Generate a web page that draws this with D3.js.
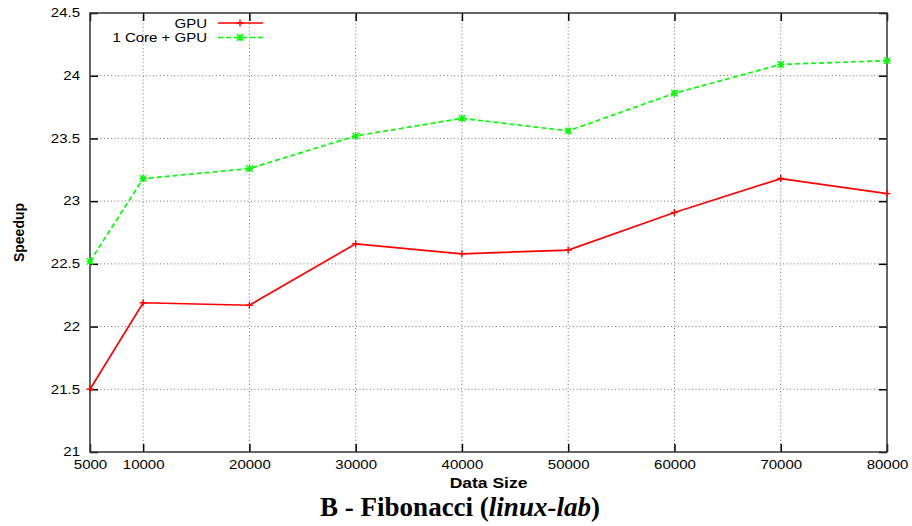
<!DOCTYPE html>
<html>
<head>
<meta charset="utf-8">
<script src="https://cdn.jsdelivr.net/npm/d3@7"></script>
<style>
  body { margin: 0; background: #fff; }
  svg { display: block; }
</style>
</head>
<body>
<div id="chart"></div>
<script>
// data
var dataSizes = [5000, 10000, 20000, 30000, 40000, 50000, 60000, 70000, 80000]
var gpuSpeedup = [21.5, 22.19, 22.17, 22.66, 22.58, 22.61, 22.91, 23.18, 23.06]
var coreGpuSpeedup = [22.52, 23.18, 23.26, 23.52, 23.66, 23.56, 23.86, 24.09, 24.12]
var yTicks = [21, 21.5, 22, 22.5, 23, 23.5, 24, 24.5]
var seriesNames = ['GPU', '1 Core + GPU']

var width = 912
var height = 526
var plot = { left: 90, right: 887, top: 13, bottom: 452 }
// the original figure is a bit stretched horizontally, so sans text is widened
var stretch = 1.25

var svg = d3.select('#chart')
  .append('svg')
  .attr('width', width)
  .attr('height', height)

var x = d3.scaleLinear().domain([5000, 80000]).range([plot.left, plot.right])
var y = d3.scaleLinear().domain([21, 24.5]).range([plot.bottom, plot.top])

var font = 'Liberation Sans, Arial, Helvetica, sans-serif'

// grid lines (dotted)
var grid = svg.append('g').attr('class', 'grid')
grid.selectAll('.vgrid')
  .data(dataSizes.slice(1, -1))
  .enter()
  .append('line')
  .attr('x1', function (d) { return x(d) })
  .attr('x2', function (d) { return x(d) })
  .attr('y1', plot.top)
  .attr('y2', plot.bottom)
  .attr('stroke', '#777')
  .attr('stroke-width', 1)
  .attr('stroke-dasharray', '1,2.5')
grid.selectAll('.hgrid')
  .data(yTicks.slice(1, -1))
  .enter()
  .append('line')
  .attr('x1', plot.left)
  .attr('x2', plot.right)
  .attr('y1', function (d) { return y(d) })
  .attr('y2', function (d) { return y(d) })
  .attr('stroke', '#777')
  .attr('stroke-width', 1)
  .attr('stroke-dasharray', '1,2.5')

// axes: ticks point inwards, mirrored on top and right
function styleAxis (g) {
  g.select('.domain').remove()
  g.selectAll('.tick line').attr('stroke', '#000').attr('stroke-width', 1.5)
  g.selectAll('.tick text')
    .attr('font-family', font)
    .attr('font-size', 12)
    .attr('fill', '#000')
    .attr('transform', 'scale(' + stretch + ',1)')
}

svg.append('g')
  .attr('transform', 'translate(0,' + plot.bottom + ')')
  .call(d3.axisTop(x).tickValues(dataSizes).tickSize(8).tickFormat(''))
  .call(styleAxis)
svg.append('g')
  .attr('transform', 'translate(0,' + plot.bottom + ')')
  .call(d3.axisBottom(x).tickValues(dataSizes).tickSize(0).tickPadding(8).tickFormat(d3.format('d')))
  .call(styleAxis)
svg.append('g')
  .attr('transform', 'translate(0,' + plot.top + ')')
  .call(d3.axisBottom(x).tickValues(dataSizes).tickSize(8).tickFormat(''))
  .call(styleAxis)
svg.append('g')
  .attr('transform', 'translate(' + plot.left + ',0)')
  .call(d3.axisRight(y).tickValues(yTicks).tickSize(8).tickFormat(''))
  .call(styleAxis)
svg.append('g')
  .attr('transform', 'translate(' + plot.left + ',0)')
  .call(d3.axisLeft(y).tickValues(yTicks).tickSize(0).tickPadding(8).tickFormat(function (d) { return String(d) }))
  .call(styleAxis)
svg.append('g')
  .attr('transform', 'translate(' + plot.right + ',0)')
  .call(d3.axisLeft(y).tickValues(yTicks).tickSize(8).tickFormat(''))
  .call(styleAxis)

// frame
svg.append('rect')
  .attr('x', plot.left)
  .attr('y', plot.top)
  .attr('width', plot.right - plot.left)
  .attr('height', plot.bottom - plot.top)
  .attr('fill', 'none')
  .attr('stroke', '#333')
  .attr('stroke-width', 1.5)

// series lines
var line = d3.line()
  .x(function (d) { return x(d[0]) })
  .y(function (d) { return y(d[1]) })

var gpuPts = dataSizes.map(function (d, i) { return [d, gpuSpeedup[i]] })
var corePts = dataSizes.map(function (d, i) { return [d, coreGpuSpeedup[i]] })

svg.append('path')
  .datum(gpuPts)
  .attr('d', line)
  .attr('fill', 'none')
  .attr('stroke', '#f00')
  .attr('stroke-width', 1.7)

svg.append('path')
  .datum(corePts)
  .attr('d', line)
  .attr('fill', 'none')
  .attr('stroke', '#0f0')
  .attr('stroke-width', 1.7)
  .attr('stroke-dasharray', '5,3')

// markers: plus for GPU, star (x + plus) for 1 Core + GPU
function plusPath (cx, cy, s) {
  return 'M' + (cx - s) + ',' + cy + 'H' + (cx + s) + 'M' + cx + ',' + (cy - s) + 'V' + (cy + s)
}
function crossPath (cx, cy, s) {
  return 'M' + (cx - s) + ',' + (cy - s) + 'L' + (cx + s) + ',' + (cy + s) +
    'M' + (cx - s) + ',' + (cy + s) + 'L' + (cx + s) + ',' + (cy - s)
}

svg.selectAll('.gpuMark')
  .data(gpuPts)
  .enter()
  .append('path')
  .attr('class', 'gpuMark')
  .attr('d', function (d) { return plusPath(x(d[0]), y(d[1]), 3.5) })
  .attr('stroke', '#f00')
  .attr('stroke-width', 1.4)

svg.selectAll('.coreMark')
  .data(corePts)
  .enter()
  .append('path')
  .attr('class', 'coreMark')
  .attr('d', function (d) {
    return crossPath(x(d[0]), y(d[1]), 3.2) + plusPath(x(d[0]), y(d[1]), 3.5)
  })
  .attr('stroke', '#0f0')
  .attr('stroke-width', 1.4)

// legend
var legend = svg.append('g').attr('class', 'legend')
var legendRows = [
  { name: seriesNames[0], color: '#f00', dash: null, y: 23 },
  { name: seriesNames[1], color: '#0f0', dash: '5,3', y: 37.5 }
]
legendRows.forEach(function (r, i) {
  legend.append('text')
    .attr('transform', 'translate(207,' + (r.y + 4.5) + ') scale(' + stretch + ',1)')
    .attr('text-anchor', 'end')
    .attr('font-family', font)
    .attr('font-size', 12)
    .text(r.name)
  legend.append('line')
    .attr('x1', 218)
    .attr('x2', 263)
    .attr('y1', r.y)
    .attr('y2', r.y)
    .attr('stroke', r.color)
    .attr('stroke-width', 1.7)
    .attr('stroke-dasharray', r.dash)
  legend.append('path')
    .attr('d', i === 0 ? plusPath(240, r.y, 3.5) : crossPath(240, r.y, 3.2) + plusPath(240, r.y, 3.5))
    .attr('stroke', r.color)
    .attr('stroke-width', 1.4)
})

// axis titles
svg.append('text')
  .attr('transform', 'translate(24,' + ((plot.top + plot.bottom) / 2) + ') rotate(-90)')
  .attr('text-anchor', 'middle')
  .attr('font-family', font)
  .attr('font-size', 14)
  .attr('font-weight', 'bold')
  .text('Speedup')

svg.append('text')
  .attr('transform', 'translate(' + ((plot.left + plot.right) / 2) + ',488) scale(' + stretch + ',1)')
  .attr('text-anchor', 'middle')
  .attr('font-family', font)
  .attr('font-size', 14)
  .attr('font-weight', 'bold')
  .text('Data Size')

// caption
var caption = svg.append('text')
  .attr('x', 460)
  .attr('y', 516)
  .attr('text-anchor', 'middle')
  .attr('font-family', 'Liberation Serif, Times New Roman, serif')
  .attr('font-size', 27)
  .attr('font-weight', 'bold')
caption.append('tspan').text('B - Fibonacci (')
caption.append('tspan').attr('font-style', 'italic').text('linux-lab')
caption.append('tspan').text(')')
</script>
</body>
</html>
